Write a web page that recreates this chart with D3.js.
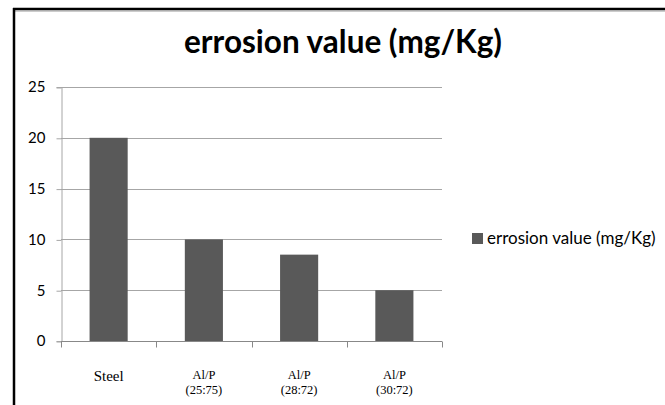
<!DOCTYPE html>
<html>
<head>
<meta charset="utf-8">
<script src="https://cdn.jsdelivr.net/npm/d3@7"></script>
<style>
  body { margin: 0; background: #fff; }
  svg { display: block; }
</style>
</head>
<body>
<div id="chart"></div>
<script>
const categories = ['Steel', 'Al/P (25:75)', 'Al/P (28:72)', 'Al/P (30:72)'];
const categoryLines = [['Steel'], ['Al/P', '(25:75)'], ['Al/P', '(28:72)'], ['Al/P', '(30:72)']];
const values = [20, 10, 8.5, 5];
const yTicks = [0, 5, 10, 15, 20, 25];
const seriesName = 'errosion value (mg/Kg)';
const title = 'errosion value (mg/Kg)';

const width = 665, height = 405;
const margin = { top: 87, right: 223, bottom: 64, left: 61 };
const innerW = width - margin.left - margin.right;
const innerH = height - margin.top - margin.bottom;

const svg = d3.select('#chart').append('svg')
  .attr('width', width)
  .attr('height', height);

// Frame
svg.append('line')
  .attr('x1', 13).attr('x2', width).attr('y1', 9).attr('y2', 9)
  .attr('stroke', '#000').attr('stroke-width', 2.5);
svg.append('line')
  .attr('x1', 13).attr('x2', width).attr('y1', 11).attr('y2', 11)
  .attr('stroke', '#999').attr('stroke-width', 1);
svg.append('line')
  .attr('x1', 14).attr('x2', 14).attr('y1', 8).attr('y2', height)
  .attr('stroke', '#000').attr('stroke-width', 2.5);

// Title
svg.append('text')
  .attr('x', 343)
  .attr('y', 53)
  .attr('text-anchor', 'middle')
  .style('font-family', 'Lato, sans-serif')
  .style('font-size', '31.5px')
  .style('font-weight', 'bold')
  .text(title);

const g = svg.append('g')
  .attr('transform', `translate(${margin.left},${margin.top})`);

const x = d3.scaleBand()
  .domain(categories)
  .range([0, innerW])
  .paddingInner(0.6)
  .paddingOuter(0.3);

const y = d3.scaleLinear()
  .domain([0, 25])
  .range([innerH, 0]);

// Gridlines
g.append('g')
  .selectAll('line')
  .data(yTicks)
  .join('line')
  .attr('x1', 0).attr('x2', innerW)
  .attr('y1', d => Math.round(y(d)) + 0.5)
  .attr('y2', d => Math.round(y(d)) + 0.5)
  .attr('stroke', '#a6a6a6')
  .attr('stroke-width', 1);

// Y axis
const yAxis = g.append('g')
  .attr('transform', 'translate(0.5,0)')
  .call(d3.axisLeft(y).tickValues(yTicks).tickSize(5).tickPadding(11));
yAxis.select('.domain').attr('stroke', '#a6a6a6');
yAxis.selectAll('.tick line').attr('stroke', '#a6a6a6')
  .attr('transform', 'translate(0,0.5)');
yAxis.selectAll('.tick text')
  .style('font-family', 'Lato, sans-serif')
  .style('font-size', '15px')
  .attr('fill', '#000');

// Bars
g.append('g')
  .selectAll('rect')
  .data(values)
  .join('rect')
  .attr('x', (d, i) => x(categories[i]))
  .attr('y', d => y(d))
  .attr('width', x.bandwidth())
  .attr('height', d => innerH - y(d))
  .attr('fill', '#595959');

// X axis
const step = innerW / categories.length;
const xg = g.append('g').attr('transform', `translate(0,${innerH + 0.5})`);
xg.append('line')
  .attr('x1', 0).attr('x2', innerW)
  .attr('stroke', '#888');
xg.selectAll('.tk')
  .data(d3.range(categories.length + 1))
  .join('line')
  .attr('class', 'tk')
  .attr('x1', i => Math.round(i * step) + 0.5)
  .attr('x2', i => Math.round(i * step) + 0.5)
  .attr('y1', 0).attr('y2', 6)
  .attr('stroke', '#888');

// Category labels
categoryLines.forEach((lines, i) => {
  const cx = x(categories[i]) + x.bandwidth() / 2;
  const t = g.append('text')
    .attr('text-anchor', 'middle')
    .style('font-family', '"Liberation Serif", "Times New Roman", serif')
    .attr('fill', '#000');
  if (lines.length === 1) {
    t.attr('x', cx).attr('y', innerH + 40)
      .style('font-size', '15px')
      .text(lines[0]);
  } else {
    t.style('font-size', '12.5px');
    lines.forEach((line, j) => {
      t.append('tspan')
        .attr('x', cx)
        .attr('y', innerH + 38 + j * 15)
        .text(line);
    });
  }
});

// Legend
const legend = svg.append('g').attr('transform', 'translate(472,233)');
legend.append('rect')
  .attr('width', 11).attr('height', 11)
  .attr('fill', '#595959');
legend.append('text')
  .attr('x', 15)
  .attr('y', 11)
  .style('font-family', 'Lato, sans-serif')
  .style('font-size', '17px')
  .attr('fill', '#000')
  .text(seriesName);
</script>
</body>
</html>
